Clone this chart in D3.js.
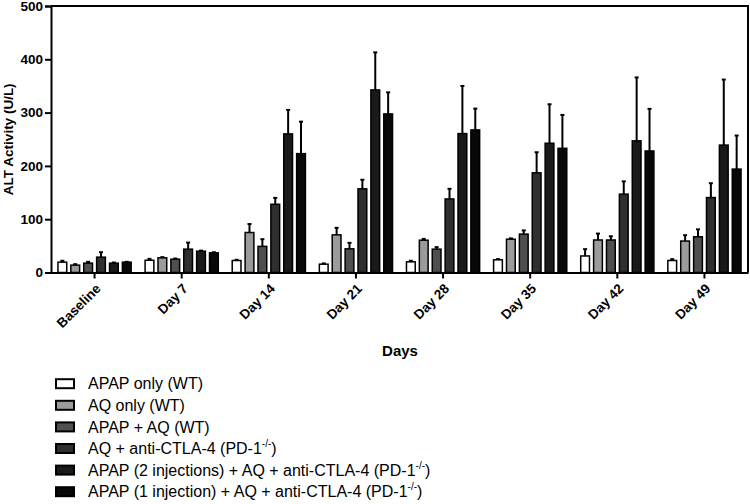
<!DOCTYPE html>
<html>
<head>
<meta charset="utf-8">
<script src="https://cdn.jsdelivr.net/npm/d3@7"></script>
<style>
  html, body { margin: 0; padding: 0; background: #fff; }
  svg { display: block; }
  text { font-family: "Liberation Sans", Arial, Helvetica, sans-serif; }
</style>
</head>
<body>
<div id="chart"></div>
<script>
// ---- data ----
const days = ["Baseline", "Day 7", "Day 14", "Day 21", "Day 28", "Day 35", "Day 42", "Day 49"];
const seriesNames = [
  "APAP only (WT)",
  "AQ only (WT)",
  "APAP + AQ (WT)",
  "AQ + anti-CTLA-4 (PD-1",
  "APAP (2 injections) + AQ + anti-CTLA-4 (PD-1",
  "APAP (1 injection) + AQ + anti-CTLA-4 (PD-1"
];
const seriesSuper = [false, false, false, true, true, true];
const apapOnly      = [19.4, 23, 22.5, 15.6, 20, 23.8, 31, 22.5];
const aqOnly        = [13.8, 27.5, 75, 70.6, 60.6, 62.5, 61, 59];
const apapAq        = [17.5, 25, 49, 44.4, 43.8, 72, 61, 67];
const aqCtla        = [28.8, 43.8, 128, 157, 138, 187, 147, 140.6];
const apap2AqCtla   = [17.5, 40, 260, 342.5, 260.6, 242.5, 247, 239];
const apap1AqCtla   = [19.4, 36.9, 223, 297.5, 267.5, 233, 228, 194];
const apapOnlySem    = [2.6, 2.6, 1.3, 1.4, 2, 1.3, 12.8, 2.5];
const aqOnlySem      = [1.8, 1.3, 16, 13.2, 2.4, 1.5, 12, 11];
const apapAqSem      = [2.5, 1.2, 13.5, 11.2, 3.8, 7, 7, 14];
const aqCtlaSem      = [9.3, 12.3, 12, 17, 19, 38.6, 24, 26.9];
const apap2AqCtlaSem = [1.2, 1, 45, 70.5, 89.4, 73.1, 119, 123];
const apap1AqCtlaSem = [0.6, 1.1, 60, 40.5, 40, 62.6, 79, 63];
const yTicks = [0, 100, 200, 300, 400, 500];
const fills = ["#ffffff", "#9b9b9b", "#4f4f4f", "#2f2f2f", "#1a1a1a", "#080808"];

const means = [apapOnly, aqOnly, apapAq, aqCtla, apap2AqCtla, apap1AqCtla];
const sems = [apapOnlySem, aqOnlySem, apapAqSem, aqCtlaSem, apap2AqCtlaSem, apap1AqCtlaSem];

// ---- layout ----
const W = 750, H = 504;
const mLeft = 51, mRight = 748, mTop = 6, mBottom = 272.5;

const svg = d3.select("#chart").append("svg").attr("width", W).attr("height", H);

const x0 = d3.scaleBand().domain(days).range([mLeft, mRight]).paddingInner(0.16).paddingOuter(0.08);
const x1 = d3.scaleBand().domain(d3.range(seriesNames.length)).range([0, x0.bandwidth()]).paddingInner(0.32).paddingOuter(0);
const y = d3.scaleLinear().domain([0, 500]).range([mBottom, mTop]);

const records = [];
days.forEach((d, i) => {
  means.forEach((arr, s) => records.push({ day: d, s, v: arr[i], e: sems[s][i] }));
});

// error bars (behind bars)
const eb = svg.append("g").attr("stroke", "#000").attr("stroke-width", 2);
records.forEach(r => {
  const cx = x0(r.day) + x1(r.s) + x1.bandwidth() / 2;
  eb.append("line").attr("x1", cx).attr("x2", cx).attr("y1", y(r.v)).attr("y2", y(r.v + r.e));
  eb.append("line").attr("x1", cx - 2).attr("x2", cx + 2).attr("y1", y(r.v + r.e)).attr("y2", y(r.v + r.e));
});

// bars
svg.append("g").selectAll("rect").data(records).join("rect")
  .attr("x", d => x0(d.day) + x1(d.s))
  .attr("y", d => y(d.v))
  .attr("width", x1.bandwidth())
  .attr("height", d => y(0) - y(d.v))
  .attr("fill", d => fills[d.s])
  .attr("stroke", "#000")
  .attr("stroke-width", 1.5);

// frame (top & right)
svg.append("path")
  .attr("d", `M${mLeft},${mTop}H${mRight}V${mBottom}`)
  .attr("fill", "none").attr("stroke", "#000").attr("stroke-width", 2);

// y axis
const yAxis = svg.append("g").attr("transform", `translate(${mLeft},0)`)
  .call(d3.axisLeft(y).tickValues(yTicks).tickSize(6).tickPadding(2).tickFormat(d3.format("d")));
yAxis.select(".domain").attr("stroke-width", 2);
yAxis.selectAll(".tick line").attr("stroke-width", 2);
yAxis.selectAll("text").attr("font-size", 13.5).attr("font-weight", "bold").attr("fill", "#000")
  .attr("font-family", "Liberation Sans, Arial, sans-serif");

// x axis
const xAxis = svg.append("g").attr("transform", `translate(0,${mBottom})`)
  .call(d3.axisBottom(x0).tickSize(6).tickSizeOuter(0));
xAxis.select(".domain").attr("stroke-width", 2);
xAxis.selectAll(".tick line").attr("stroke-width", 2);
xAxis.selectAll(".tick text")
  .attr("font-size", 13.5).attr("font-weight", "bold").attr("fill", "#000")
  .attr("font-family", "Liberation Sans, Arial, sans-serif")
  .attr("text-anchor", "end")
  .attr("y", 0).attr("dy", 0)
  .attr("transform", "translate(7,17) rotate(-45)");

// axis titles
svg.append("text")
  .attr("transform", `translate(13,${(mTop + mBottom) / 2}) rotate(-90)`)
  .attr("text-anchor", "middle")
  .attr("font-size", 13.5).attr("font-weight", "bold")
  .text("ALT Activity (U/L)");

svg.append("text")
  .attr("x", 400).attr("y", 356)
  .attr("text-anchor", "middle")
  .attr("font-size", 15).attr("font-weight", "bold")
  .text("Days");

// legend
const lg = svg.append("g");
seriesNames.forEach((name, i) => {
  const cy = 383.7 + i * 21.6;
  lg.append("rect").attr("x", 56).attr("y", cy - 4.5).attr("width", 18).attr("height", 9)
    .attr("fill", fills[i]).attr("stroke", "#000").attr("stroke-width", 2);
  const t = lg.append("text").attr("x", 88).attr("y", cy + 5.7).attr("font-size", 16).attr("fill", "#000");
  t.append("tspan").text(name);
  if (seriesSuper[i]) {
    t.append("tspan").attr("font-size", 10).attr("dy", -7).text("-/-");
    t.append("tspan").attr("dy", 7).text(")");
  }
});
</script>
</body>
</html>
